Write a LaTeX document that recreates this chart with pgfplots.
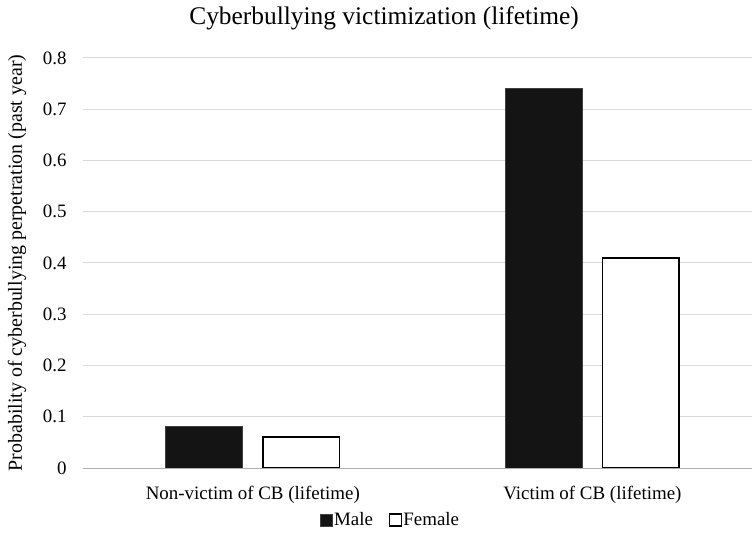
\documentclass[border=0pt]{standalone}
\usepackage{pgfplots}
\pgfplotsset{compat=1.18}
\usepackage{fontspec}
\setmainfont{Liberation Serif}
\definecolor{gridc}{HTML}{D9D9D9}
\definecolor{barm}{HTML}{141414}
\begin{document}
\begin{tikzpicture}[x=1bp,y=1bp]
\begin{axis}[
  at={(83bp,71bp)}, anchor=south west,
  scale only axis, width=669bp, height=410bp,
  xmin=-0.5, xmax=1.47, ymin=0, ymax=0.8,
  xtick={0,1}, xticklabels={Non-victim of CB (lifetime),Victim of CB (lifetime)},
  ytick={0,0.1,...,0.8},
  yticklabel style={/pgf/number format/fixed,/pgf/number format/precision=1},
  /pgf/number format/assume math mode=true,
  ymajorgrids, grid style={gridc, line width=1bp},
  axis line style={draw=none},
  major tick length=0pt,
  tick label style={font=\fontsize{19}{22}\selectfont},
  yticklabel style={xshift=-13bp},
  xticklabel style={anchor=center, yshift=-27bp},
  ylabel={Probability of cyberbullying perpetration (past year)},
  ylabel style={font=\fontsize{20}{23}\selectfont, at={(rel axis cs:0,0.5)}, anchor=center, yshift=66bp},
  title={Cyberbullying victimization (lifetime)},
  title style={font=\fontsize{25.5}{28}\selectfont, at={(rel axis cs:0.45,1)}, anchor=center, yshift=34bp},
  legend style={draw=none, at={(0.459,-0.127)}, anchor=center, legend columns=2,
    font=\fontsize{19}{22}\selectfont, nodes={inner sep=1bp},
    /tikz/every even column/.append style={column sep=15bp}},
  legend image code/.code={\draw[#1] (0bp,-6bp) rectangle (12bp,6bp);},
  clip=false,
]
\addplot[ybar, bar width=0.226, bar shift=-0.1426, fill=barm, draw=black!75, line width=1bp]
  coordinates {(0,0.08) (1,0.74)};
\addplot[ybar, bar width=0.226, bar shift=0.1426, fill=white, draw=black, line width=1.5bp]
  coordinates {(0,0.06) (1,0.41)};
\legend{Male,Female}
\draw[gridc!80!black, line width=1bp] (rel axis cs:0,0) -- (rel axis cs:1,0);
\end{axis}
\pgfresetboundingbox
\path[use as bounding box] (0,0) rectangle (752bp,539bp);
\end{tikzpicture}
\end{document}
